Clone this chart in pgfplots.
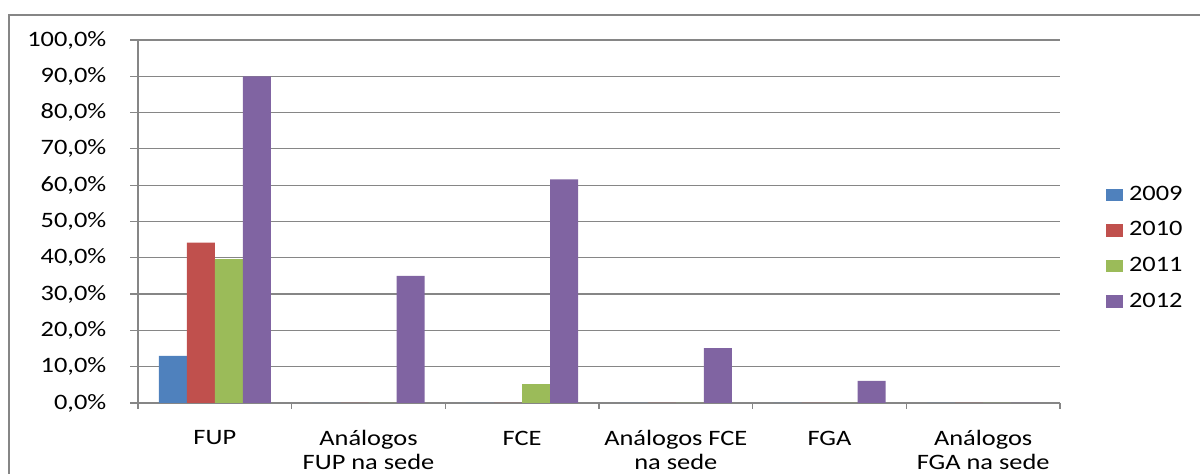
\documentclass[border=0pt]{standalone}
\usepackage{fontspec}
\setmainfont[FakeStretch=1.2]{Carlito}
\usepackage{pgfplots}
\pgfplotsset{compat=1.18}
\definecolor{c09}{HTML}{4F81BD}
\definecolor{c10}{HTML}{C0504D}
\definecolor{c11}{HTML}{9BBB59}
\definecolor{c12}{HTML}{8064A2}
\definecolor{gridc}{HTML}{868686}
\definecolor{framec}{HTML}{868686}
\pgfplotsset{sq legend/.style={legend image code/.code={\fill[##1] (0pt,-3.2pt) rectangle (8.5pt,3.2pt);}}}
\begin{document}
\fontsize{11pt}{12pt}\selectfont
\begin{tikzpicture}
\useasboundingbox (0,0) rectangle (600pt,237pt);
\draw[color=framec, line width=1pt] (4.5pt,-5pt) -- (4.5pt,229.5pt) -- (605pt,229.5pt);
\begin{axis}[
  at={(69pt,35.5pt)}, anchor=south west,
  scale only axis, width=461pt, height=181.5pt,
  ybar=0pt, bar width=14pt,
  xmin=-0.5, xmax=5.5, ymin=0, ymax=100,
  xtick={0,...,5},
  xticklabels={FUP, {Análogos\\FUP na sede}, FCE, {Análogos FCE\\na sede}, FGA, {Análogos\\FGA na sede}},
  major x tick style={draw=none},
  minor xtick={-0.5,0.5,...,5.5},
  ytick={0,10,...,100},
  ymajorgrids,
  grid style={color=gridc, line width=0.6pt},
  axis x line=bottom, axis y line=left,
  axis line style={-, color=gridc, line width=0.6pt},
  tick align=outside, major tick length=4pt, minor tick length=3pt,
  tick style={color=gridc, line width=0.6pt},
  /pgf/number format/assume math mode=true,
  yticklabel={\pgfmathprintnumber[fixed,fixed zerofill,precision=1,use comma]{\tick}\%},
  yticklabel style={xshift=-8pt, font=\fontsize{11pt}{12pt}\selectfont},
  xticklabel style={align=center, yshift=-6pt, font=\fontsize{11pt}{12pt}\selectfont},
  legend style={at={(1.043,0.615)}, anchor=north west, draw=none, fill=none,
    row sep=7pt, column sep=2pt, font=\fontsize{11pt}{12pt}\selectfont, nodes={inner sep=1pt}},
  legend cell align=left,
]
\addplot[fill=c09, draw=none, sq legend] coordinates {(0,13.0) (1,0) (2,0) (3,0) (4,0) (5,0)};
\addplot[fill=c10, draw=none, sq legend] coordinates {(0,44.2) (1,0) (2,0) (3,0) (4,0) (5,0)};
\addplot[fill=c11, draw=none, sq legend] coordinates {(0,39.6) (1,0) (2,5.2) (3,0) (4,0) (5,0)};
\addplot[fill=c12, draw=none, sq legend] coordinates {(0,90.0) (1,35.0) (2,61.6) (3,15.1) (4,6.1) (5,0)};
\legend{2009,2010,2011,2012}
\end{axis}
\end{tikzpicture}
\end{document}
